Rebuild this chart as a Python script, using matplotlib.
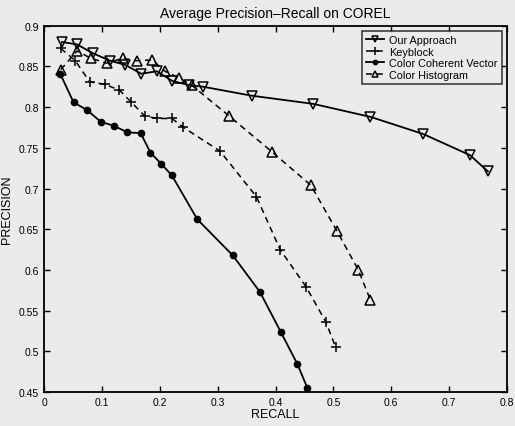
import numpy as np
import matplotlib
matplotlib.use("Agg")
import matplotlib.pyplot as plt

plt.rcParams['font.family'] = ['Liberation Sans', 'DejaVu Sans']

# data
ours_r = [0.031, 0.057, 0.085, 0.114, 0.140, 0.168, 0.195, 0.222, 0.251, 0.275, 0.359, 0.465, 0.564, 0.655, 0.736, 0.767]
ours_p = [0.880, 0.877, 0.866, 0.857, 0.852, 0.841, 0.844, 0.832, 0.827, 0.825, 0.814, 0.804, 0.788, 0.767, 0.741, 0.721]

key_r = [0.029, 0.054, 0.079, 0.105, 0.130, 0.151, 0.174, 0.196, 0.221, 0.241, 0.304, 0.367, 0.408, 0.453, 0.487, 0.504]
key_p = [0.872, 0.857, 0.831, 0.828, 0.821, 0.806, 0.789, 0.786, 0.786, 0.775, 0.746, 0.690, 0.625, 0.579, 0.536, 0.505]

ccv_r = [0.028, 0.051, 0.075, 0.098, 0.121, 0.144, 0.167, 0.184, 0.203, 0.221, 0.265, 0.326, 0.373, 0.409, 0.438, 0.455]
ccv_p = [0.841, 0.806, 0.796, 0.782, 0.777, 0.769, 0.768, 0.744, 0.730, 0.716, 0.662, 0.618, 0.573, 0.524, 0.484, 0.455]

hist_r = [0.029, 0.057, 0.081, 0.108, 0.136, 0.160, 0.187, 0.209, 0.233, 0.255, 0.320, 0.394, 0.461, 0.506, 0.543, 0.564]
hist_p = [0.846, 0.869, 0.860, 0.854, 0.860, 0.857, 0.858, 0.844, 0.836, 0.827, 0.789, 0.745, 0.704, 0.648, 0.600, 0.563]

bg = '#ebebeb'
dash = (0, (4, 3))
fig = plt.figure(figsize=(5.15, 4.27), dpi=100, facecolor=bg)
ax = fig.add_axes([44/515, 1-393/427, 463/515, 366.3/427], facecolor=bg)

ax.plot(ours_r, ours_p, '-v', color='k', lw=1.3, ms=6.5, mfc='none', mew=1.1, label='Our Approach')
ax.plot(key_r, key_p, marker='+', ls=dash, color='k', lw=1.1, ms=7.5, mew=1.1, label='Keyblock')
ax.plot(ccv_r, ccv_p, '-o', color='k', lw=1.3, ms=4.5, label='Color Coherent Vector')
ax.plot(hist_r, hist_p, marker='^', ls=dash, color='k', lw=1.1, ms=6.5, mfc='none', mew=1.1, label='Color Histogram')

ax.set_xlim(0, 0.8)
ax.set_ylim(0.45, 0.9)
ax.set_xticks(np.arange(0, 0.81, 0.1))
ax.set_yticks(np.arange(0.45, 0.901, 0.05))
ax.set_xticklabels(['0', '0.1', '0.2', '0.3', '0.4', '0.5', '0.6', '0.7', '0.8'])
ax.set_yticklabels(['0.45', '0.5', '0.55', '0.6', '0.65', '0.7', '0.75', '0.8', '0.85', '0.9'])
ax.tick_params(direction='in', top=True, right=True, labelsize=7.5, length=4.5, width=1)
for s in ax.spines.values():
    s.set_linewidth(1.3)

ax.set_title('Average Precision\u2013Recall on COREL', fontsize=10, pad=6)
ax.set_xlabel('RECALL', fontsize=9, labelpad=1)
ax.set_ylabel('PRECISION', fontsize=9, labelpad=4)

leg = ax.legend(loc='upper right', fontsize=7.8, frameon=True, fancybox=False,
                edgecolor='k', facecolor=bg, borderaxespad=0.5, handlelength=1.7,
                labelspacing=0.15, borderpad=0.35, handletextpad=0.5, markerscale=0.7)
leg.get_frame().set_linewidth(1.1)

fig.savefig('out.png', dpi=100, facecolor=bg)
